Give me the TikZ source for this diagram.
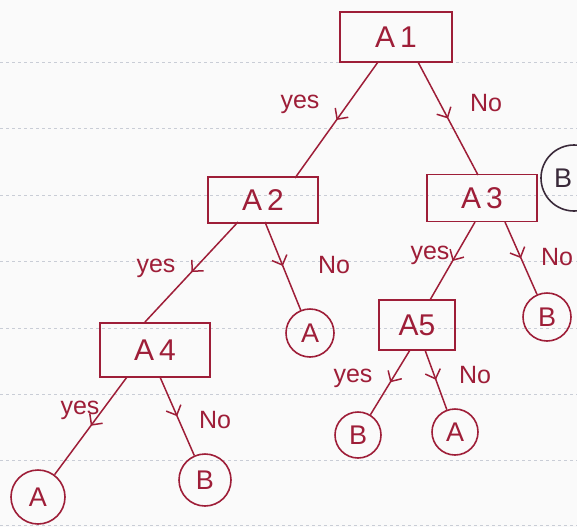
\documentclass[tikz,border=0pt]{standalone}
\usepackage{fontspec}
\setmainfont{Liberation Sans}
\usetikzlibrary{arrows.meta,decorations.markings}
\definecolor{ink}{HTML}{9E1E38}
\definecolor{paperline}{HTML}{C9CDD6}
\definecolor{darkink}{HTML}{3A2A3A}
\tikzset{
  x=1pt,y=-1pt,
  testbox/.style={draw=ink,line width=1.6pt,text=ink,minimum width=110pt,minimum height=46pt,inner sep=2pt,font=\fontsize{30}{34}\selectfont},
  leaf/.style={draw=ink,circle,line width=1.6pt,text=ink,minimum size=48pt,inner sep=0pt,font=\fontsize{27}{30}\selectfont},
  branch/.style={draw=ink,line width=1.5pt,postaction={decorate},decoration={markings,mark=at position .5 with {\arrow[ink,line width=1.5pt]{Straight Barb[length=8pt,width=16pt]}}}},
  lbl/.style={text=ink,font=\fontsize{25}{28}\selectfont,inner sep=0pt},
}
\begin{document}
\begin{tikzpicture}
\useasboundingbox (0,0) rectangle (577,527);
\fill[white!96!gray] (0,0) rectangle (577,527);
\foreach \yy in {62,128,195,261,328,394,460,525}
  \draw[paperline,dashed,line width=0.6pt] (0,\yy) -- (577,\yy);
% nodes
\node[testbox,minimum width=112pt,minimum height=50pt] (a1) at (396,37) {A\,1};
\node[testbox] (a2) at (263,200) {A\,2};
\node[testbox,minimum height=47pt] (a3) at (482,198) {A\,3};
\node[testbox,minimum height=54pt] (a4) at (155,350) {A\,4};
\node[testbox,minimum width=76pt,minimum height=50pt] (a5) at (417,325) {A5};
\node[leaf] (l2) at (310,333) {A};
\node[leaf] (l3) at (547,317) {B};
\node[leaf,minimum size=54pt] (l4a) at (38,497) {A};
\node[leaf,minimum size=52pt] (l4b) at (205,480) {B};
\node[leaf,minimum size=46pt] (l5a) at (358,435) {B};
\node[leaf,minimum size=46pt] (l5b) at (455,432) {A};
\node[draw=darkink,circle,line width=1.6pt,minimum size=66pt,text=darkink,font=\fontsize{27}{30}\selectfont] (pb) at (574,178) {\hspace*{-22pt}B};
% branches
\coordinate (a1s) at (378,62); \coordinate (a2n) at (295,178);
\coordinate (a1t) at (418,62); \coordinate (a3n) at (478,175);
\draw[branch] (a1s) -- (a2n);
\draw[branch] (a1t) -- (a3n);
\coordinate (a2s) at (238,222); \coordinate (a4n) at (145,322);
\coordinate (a2t) at (265,222);
\draw[branch] (a2s) -- (a4n);
\draw[branch] (a2t) -- (l2);
\coordinate (a3s) at (475,222); \coordinate (a5n) at (430,300);
\coordinate (a3t) at (505,222);
\draw[branch] (a3s) -- (a5n);
\draw[branch] (a3t) -- (l3);
\coordinate (a4s) at (127,377); \coordinate (a4t) at (160,377);
\draw[branch] (a4s) -- (l4a);
\draw[branch] (a4t) -- (l4b);
\coordinate (a5s) at (410,350); \coordinate (a5t) at (425,350);
\draw[branch] (a5s) -- (l5a);
\draw[branch] (a5t) -- (l5b);
% labels
\node[lbl] (t1) at (300,104) {yes};
\node[lbl] (t2) at (486,103) {No};
\node[lbl] (t3) at (156,268) {yes};
\node[lbl] (t4) at (334,265) {No};
\node[lbl] (t5) at (430,255) {yes};
\node[lbl] (t6) at (557,257) {No};
\node[lbl] (t7) at (80,410) {yes};
\node[lbl] (t8) at (215,420) {No};
\node[lbl] (t9) at (353,378) {yes};
\node[lbl] (t10) at (475,375) {No};
\end{tikzpicture}
\end{document}
